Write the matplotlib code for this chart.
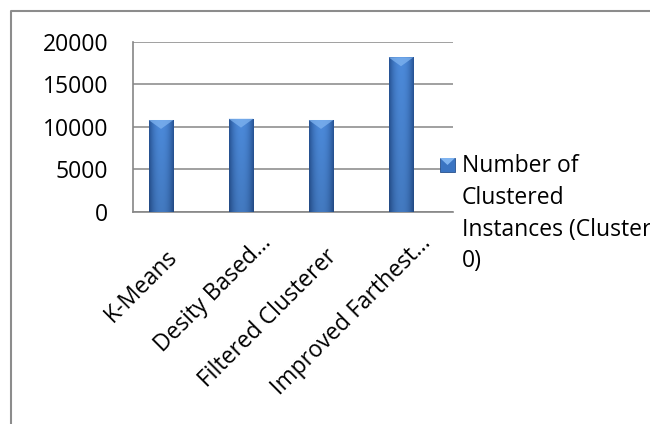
import numpy as np
import matplotlib
matplotlib.use("Agg")
import matplotlib.pyplot as plt
from matplotlib.patches import Rectangle, Polygon
from matplotlib.lines import Line2D
from matplotlib.transforms import ScaledTranslation

categories = ["K-Means", "Desity Based...", "Filtered Clusterer", "Improved Farthest..."]
values = [10790, 10940, 10790, 18165]
yticks = [0, 5000, 10000, 15000, 20000]
legend_label = "Number of\nClustered\nInstances (Cluster\n0)"

plt.rcParams['font.family'] = ['Open Sans', 'DejaVu Sans']
W, H, DPI = 650, 424, 100
FS = 16.5
fig = plt.figure(figsize=(W / DPI, H / DPI), dpi=DPI)
ax = fig.add_axes([133 / W, 1 - 211.7 / H, 320 / W, 170 / H])

grid_c = '#868686'
edge_c = np.array([0x26, 0x52, 0x93]) / 255
mid_c = np.array([0x4C, 0x8A, 0xDA]) / 255

x = np.arange(len(categories))
bw = 0.31
bars = ax.bar(x, values, width=bw, color='#3A74C2', edgecolor='#28508C', linewidth=0.6, zorder=3)

gx = np.linspace(0, 1, 80)
prof = 1 - np.abs(2 * gx - 1) ** 2.2
gy = np.linspace(0, 1, 80)
img = edge_c[None, None, :] + (mid_c - edge_c)[None, None, :] * prof[None, :, None]
img = img * (0.88 + 0.12 * gy)[:, None, None]
img = np.clip(img, 0, 1)

bevel = 1050
for b, v in zip(bars, values):
    x0 = b.get_x()
    x1 = x0 + b.get_width()
    im = ax.imshow(img, extent=[x0, x1, 0, v], origin='lower', aspect='auto', zorder=3.1,
                   interpolation='bilinear')
    im.set_clip_path(b)
    tri = Polygon([(x0, v), (x1, v), ((x0 + x1) / 2, v - bevel)], closed=True,
                  facecolor='#80B4F0', edgecolor='none', alpha=0.75, zorder=3.2)
    ax.add_patch(tri)

ax.set_xlim(-0.35, 3.65)
ax.set_ylim(0, 20000)
ax.set_yticks(yticks)
ax.set_yticklabels([str(t) for t in yticks])
ax.grid(axis='y', color=grid_c, linewidth=1.1, zorder=0)
ax.set_axisbelow(True)
for s in ['top', 'right']:
    ax.spines[s].set_visible(False)
for s in ['left', 'bottom']:
    ax.spines[s].set_color(grid_c)
    ax.spines[s].set_linewidth(1.2)
ax.tick_params(axis='y', length=0, pad=18, labelsize=FS, colors='black')
ax.tick_params(axis='x', length=0, pad=33, labelsize=FS, colors='black')
ax.set_xticks(x)
ax.set_xticklabels(categories, rotation=45, ha='right', va='baseline', rotation_mode='anchor')
for lab in ax.get_xticklabels():
    # Excel pushes truncated ("...") labels further along their direction
    extra = 14 if lab.get_text().endswith('...') else 0
    off = ScaledTranslation((17 + extra) / DPI, extra / DPI, fig.dpi_scale_trans)
    lab.set_transform(lab.get_transform() + off)

# legend (manual, Excel style)
fig.add_artist(Rectangle((440 / W, 1 - 172 / H), 15 / W, 14 / H, transform=fig.transFigure,
                         facecolor='#3A74C2', edgecolor='#28508C', linewidth=0.6))
fig.add_artist(Polygon([(440 / W, 1 - 158 / H), (455 / W, 1 - 158 / H), (447.5 / W, 1 - 165 / H)],
                       closed=True, transform=fig.transFigure, facecolor='#80B4F0', edgecolor='none'))
fig.text(462 / W, 1 - 154.5 / H, legend_label, fontsize=FS, va='top', ha='left',
         linespacing=1.42, color='black')

# chart border
bc = '#8C8C8C'
fig.add_artist(Line2D([11 / W, 11 / W, 1.01], [-0.01, 1 - 11 / H, 1 - 11 / H],
                      transform=fig.transFigure, color=bc, linewidth=1.5))

fig.savefig('out.png', dpi=DPI)
